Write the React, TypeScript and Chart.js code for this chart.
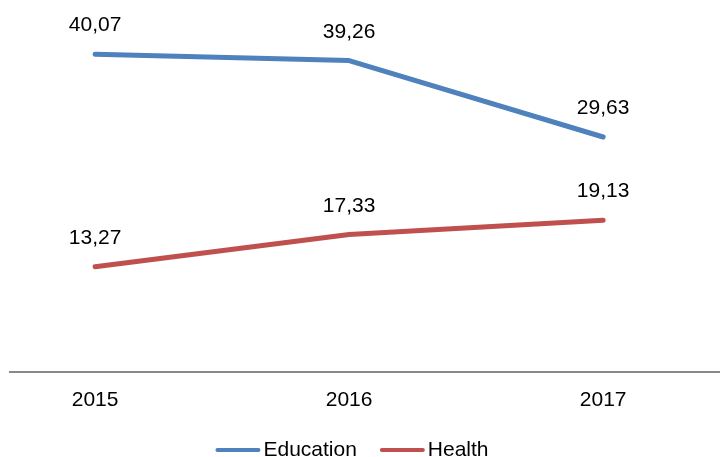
import React, { useEffect, useRef } from "react";
import { Chart, registerables } from "chart.js";

Chart.register(...registerables);

const years = ["2015", "2016", "2017"];
const education = [40.07, 39.26, 29.63];
const health = [13.27, 17.33, 19.13];
const seriesNames = ["Education", "Health"];
const seriesColors = ["#4F81BD", "#C0504D"];

const FONT = "'Liberation Sans', Arial, sans-serif";

const fmt = (v: number) => v.toFixed(2).replace(".", ",");

const labelsPlugin = {
  id: "valueLabels",
  afterDatasetsDraw(chart: any) {
    const ctx = chart.ctx;
    ctx.save();
    ctx.font = `21px ${FONT}`;
    ctx.fillStyle = "#000";
    ctx.textAlign = "center";
    ctx.textBaseline = "alphabetic";
    chart.data.datasets.forEach((ds: any, i: number) => {
      const meta = chart.getDatasetMeta(i);
      meta.data.forEach((pt: any, j: number) => {
        ctx.fillText(fmt(ds.data[j].y), pt.x, pt.y - 23);
      });
    });
    ctx.restore();
  },
};

const legendPlugin = {
  id: "customLegend",
  afterDraw(chart: any) {
    const ctx = chart.ctx;
    ctx.save();
    ctx.font = `21px ${FONT}`;
    const lineW = 45;
    const gapText = 3;
    const gapItem = 23;
    const widths = seriesNames.map((n) => lineW + gapText + ctx.measureText(n).width);
    const total = widths.reduce((a, b) => a + b, 0) + gapItem * (seriesNames.length - 1);
    let x = 352 - total / 2;
    const yLine = 450;
    const yText = 455.5;
    seriesNames.forEach((n, i) => {
      ctx.strokeStyle = seriesColors[i];
      ctx.lineWidth = 4;
      ctx.lineCap = "round";
      ctx.beginPath();
      ctx.moveTo(x + 2, yLine);
      ctx.lineTo(x + lineW - 2, yLine);
      ctx.stroke();
      ctx.fillStyle = "#000";
      ctx.textAlign = "left";
      ctx.textBaseline = "alphabetic";
      ctx.fillText(n, x + lineW + gapText, yText);
      x += widths[i] + gapItem;
    });
    ctx.restore();
  },
};

export default function App() {
  const ref = useRef<HTMLCanvasElement | null>(null);
  useEffect(() => {
    if (!ref.current) return;
    const chart = new Chart(ref.current, {
      type: "line",
      data: {
        datasets: [education, health].map((vals, i) => ({
          label: seriesNames[i],
          data: vals.map((v, j) => ({ x: j, y: v })),
          borderColor: seriesColors[i],
          backgroundColor: seriesColors[i],
          borderWidth: 5,
          borderCapStyle: "round",
          borderJoinStyle: "round",
          pointRadius: 0,
          tension: 0,
          fill: false,
        })) as any,
      },
      options: {
        animation: false,
        responsive: false,
        maintainAspectRatio: false,
        layout: { padding: { left: 10, right: 0, top: 0, bottom: 0 } },
        plugins: {
          legend: { display: false },
          tooltip: { enabled: false },
        },
        scales: {
          x: {
            type: "linear",
            min: -0.335,
            max: 2.46,
            grid: { display: false, drawTicks: false },
            border: { display: true, color: "#898989", width: 2 },
            afterBuildTicks: (scale: any) => {
              scale.ticks = years.map((_, i) => ({ value: i }));
            },
            afterFit: (scale: any) => {
              scale.height = 85;
            },
            ticks: {
              padding: 16,
              maxRotation: 0,
              autoSkip: false,
              color: "#000",
              font: { family: FONT, size: 21 },
              callback: (v: any) => years[Math.round(Number(v))] ?? "",
            },
          },
          y: {
            display: false,
            min: 0,
            max: 46.9,
          },
        },
      },
      plugins: [labelsPlugin, legendPlugin],
    });
    return () => chart.destroy();
  }, []);
  return (
    <div style={{ position: "fixed", left: 0, top: 0, width: 720, height: 457, background: "#fff" }}>
      <canvas ref={ref} width={720} height={457} style={{ display: "block" }} />
    </div>
  );
}
